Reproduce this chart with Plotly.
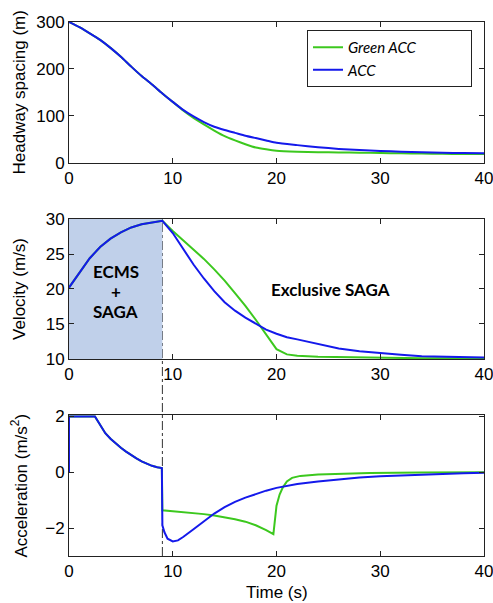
import plotly.graph_objects as go

# ---------------- data ----------------
switch_time = 9.0

t_head = [0, 1, 2, 3, 4, 5, 6, 7, 8, 9, 10, 11, 12, 13, 14, 15, 16, 17, 18, 19, 20,
          22, 24, 26, 28, 30, 32, 34, 36, 38, 40]
head_acc = [300, 289, 276, 262, 245, 226, 205, 185, 167, 148, 130, 113, 99, 87, 77, 70,
            64, 58, 53, 48, 43, 38, 33.5, 30, 27.5, 25.5, 24, 23, 22, 21, 20.5]
head_green = [300, 289, 276, 262, 245, 226, 205, 185, 167, 148, 130, 112, 96, 82, 69, 57,
              48, 40, 33, 29, 26, 24, 23, 22.5, 22, 21, 20.5, 20, 19.5, 19.2, 19]

t_vel_acc = [0, 1, 2, 3, 4, 5, 6, 7, 8, 9, 10, 11, 12, 13, 14, 15, 16, 17, 18, 19, 20,
             21, 22, 24, 26, 28, 30, 32, 34, 36, 38, 40]
vel_acc = [20.2, 22.3, 24.4, 26.0, 27.2, 28.1, 28.8, 29.25, 29.55, 29.75, 28.0, 25.8,
           23.5, 21.5, 19.7, 18.1, 16.9, 15.9, 15.0, 14.2, 13.6, 13.1, 12.8, 12.1, 11.5,
           11.1, 10.8, 10.6, 10.4, 10.3, 10.2, 10.2]
t_vel_green = [0, 1, 2, 3, 4, 5, 6, 7, 8, 9, 10, 11, 12, 13, 14, 15, 16, 17, 18, 19,
               19.7, 20, 21, 22, 24, 26, 28, 30, 34, 40]
vel_green = [20.2, 22.3, 24.4, 26.0, 27.2, 28.1, 28.8, 29.25, 29.55, 29.75, 28.3, 27.0,
             25.7, 24.3, 22.8, 21.2, 19.4, 17.6, 15.6, 13.5, 12.0, 11.4, 10.65, 10.45,
             10.3, 10.25, 10.2, 10.15, 10.1, 10.1]

t_a_acc = [0, 0, 2.5, 3, 3.5, 4, 4.5, 5, 5.5, 6, 6.5, 7, 7.5, 8, 8.5, 8.95, 9.0, 9.2,
           9.5, 10, 10.5, 11, 12, 13, 14, 15, 16, 17, 18, 19, 20, 21, 22, 24, 26, 28,
           30, 32, 34, 36, 38, 40]
a_acc = [0, 2, 2, 1.68, 1.4, 1.2, 1.03, 0.88, 0.74, 0.61, 0.5, 0.39, 0.3, 0.23, 0.18,
         0.15, -1.9, -2.15, -2.38, -2.48, -2.44, -2.32, -2.04, -1.75, -1.48, -1.25,
         -1.06, -0.91, -0.78, -0.66, -0.56, -0.48, -0.42, -0.33, -0.25, -0.19, -0.14,
         -0.11, -0.08, -0.05, -0.04, -0.02]
t_a_green = [0, 0, 2.5, 3, 3.5, 4, 4.5, 5, 5.5, 6, 6.5, 7, 7.5, 8, 8.5, 8.95, 9.0, 10,
             11, 12, 13, 14, 15, 16, 17, 18, 19, 19.7, 20.0, 20.3, 20.6, 21, 21.5, 22.3,
             24, 26, 29, 34, 40]
a_green = [0, 2, 2, 1.68, 1.4, 1.2, 1.03, 0.88, 0.74, 0.61, 0.5, 0.39, 0.3, 0.23, 0.18,
           0.15, -1.36, -1.39, -1.42, -1.46, -1.5, -1.55, -1.61, -1.68, -1.77, -1.9,
           -2.07, -2.22, -1.2, -0.8, -0.55, -0.33, -0.2, -0.13, -0.08, -0.05, -0.03,
           -0.01, 0]

x_ticks = [0, 10, 20, 30, 40]
head_ticks = [0, 100, 200, 300]
vel_ticks = [10, 15, 20, 25, 30]
acc_ticks = [-2, 0, 2]

names = ["Green ACC", "ACC"]
GREEN = "rgb(60,200,30)"
BLUE = "rgb(20,25,235)"

# ---------------- figure ----------------
fig = go.Figure()

pad = "\u00a0" * 14  # widen the legend box like the reference
fig.add_trace(go.Scatter(x=t_head, y=head_green, mode="lines", name=names[0] + pad,
                         line=dict(color=GREEN, width=2, shape="spline", smoothing=0.6),
                         xaxis="x", yaxis="y"))
fig.add_trace(go.Scatter(x=t_head, y=head_acc, mode="lines", name=names[1],
                         line=dict(color=BLUE, width=2, shape="spline", smoothing=0.6),
                         xaxis="x", yaxis="y"))
fig.add_trace(go.Scatter(x=t_vel_green, y=vel_green, mode="lines", showlegend=False,
                         line=dict(color=GREEN, width=2), xaxis="x2", yaxis="y2"))
fig.add_trace(go.Scatter(x=t_vel_acc, y=vel_acc, mode="lines", showlegend=False,
                         line=dict(color=BLUE, width=2), xaxis="x2", yaxis="y2"))
fig.add_trace(go.Scatter(x=t_a_green, y=a_green, mode="lines", showlegend=False,
                         line=dict(color=GREEN, width=2), xaxis="x3", yaxis="y3"))
fig.add_trace(go.Scatter(x=t_a_acc, y=a_acc, mode="lines", showlegend=False,
                         line=dict(color=BLUE, width=2), xaxis="x3", yaxis="y3"))

tickfont = dict(family="Liberation Sans, Arial, sans-serif", size=17, color="black")
common = dict(showline=True, linecolor="#222", linewidth=1, mirror="ticks",
              ticks="inside", ticklen=5, tickcolor="#222", showgrid=False,
              zeroline=False, tickfont=tickfont, ticklabeloverflow="allow",
              automargin=False)

dom_top = [0.736, 1.0]
dom_mid = [0.369, 0.631]
dom_bot = [0.0, 0.264]

fig.update_layout(
    width=493, height=603,
    margin=dict(l=69, r=9, t=22, b=47),
    paper_bgcolor="white", plot_bgcolor="white",
    xaxis=dict(common, domain=[0, 1], range=[0, 40], tickvals=x_ticks, anchor="y"),
    yaxis=dict(common, domain=dom_top, range=[0, 300], tickvals=head_ticks, anchor="x"),
    xaxis2=dict(common, domain=[0, 1], range=[0, 40], tickvals=x_ticks, anchor="y2"),
    yaxis2=dict(common, domain=dom_mid, range=[10, 30], tickvals=vel_ticks, anchor="x2"),
    xaxis3=dict(common, domain=[0, 1], range=[0, 40], tickvals=x_ticks, anchor="y3"),
    yaxis3=dict(common, domain=dom_bot, range=[-3, 2.05], tickvals=acc_ticks, anchor="x3"),
    legend=dict(x=0.5735, y=0.985, xanchor="left", yanchor="top",
                bgcolor="white", bordercolor="#222", borderwidth=1,
                font=dict(family="Lato, sans-serif", size=15, color="black", style="italic"),
                tracegroupgap=0),
    showlegend=True,
)

# shaded phase region + switch line
fig.add_shape(type="rect", xref="x2", yref="y2", x0=0, x1=switch_time, y0=10, y1=30,
              fillcolor="#c0d0ea", line=dict(width=0), layer="below")
fig.add_shape(type="line", xref="x2", yref="paper", x0=switch_time, x1=switch_time,
              y0=dom_bot[0], y1=dom_mid[1], line=dict(color="#333", width=1, dash="dashdot"),
              layer="below")

boldfont = dict(family="Lato, sans-serif", size=17, color="black", weight="bold")
for txt, yv in [("ECMS", 22.47), ("+", 19.61), ("SAGA", 16.76)]:
    fig.add_annotation(x=4.5, y=yv, xref="x2", yref="y2", text=txt, showarrow=False,
                       font=boldfont, xanchor="center", yanchor="middle")
fig.add_annotation(x=25.2, y=19.96, xref="x2", yref="y2", text="Exclusive SAGA",
                   showarrow=False, font=boldfont, xanchor="center", yanchor="middle")

titlefont = dict(family="Liberation Sans, Arial, sans-serif", size=17, color="black")
for txt, dom in [("Headway spacing (m)", dom_top), ("Velocity (m/s)", dom_mid),
                 ("Acceleration (m/s<sup>2</sup>)", dom_bot)]:
    fig.add_annotation(x=0, y=(dom[0] + dom[1]) / 2, xref="paper", yref="paper",
                       xshift=-50, text=txt, textangle=-90, showarrow=False,
                       font=titlefont, xanchor="center", yanchor="middle")
fig.add_annotation(x=0.5, y=0, xref="paper", yref="paper", yshift=-36, text="Time (s)",
                   showarrow=False, font=titlefont, xanchor="center", yanchor="middle")

fig.write_html("out.html", config={"displayModeBar": False},
               post_script="document.body.style.margin='0px';")
